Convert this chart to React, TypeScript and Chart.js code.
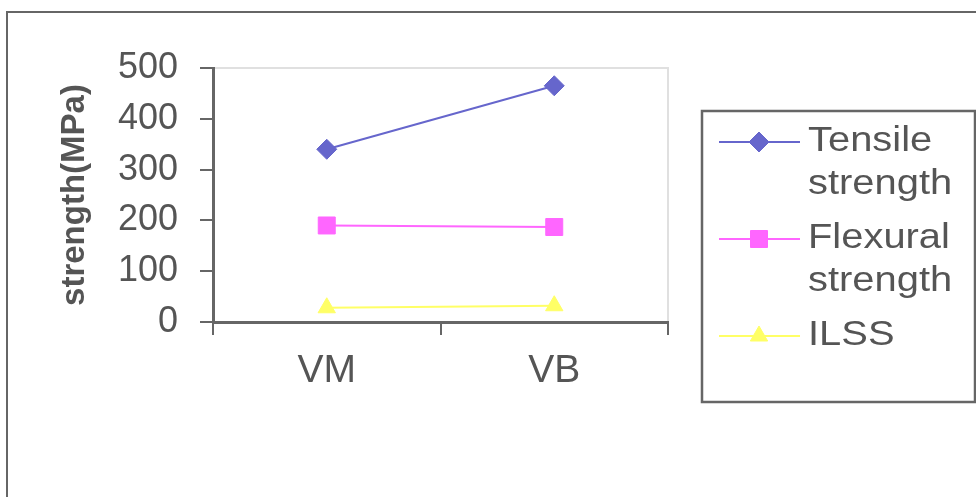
import React, { useEffect, useRef } from "react";
import { Chart, registerables } from "chart.js";

Chart.register(...registerables);

// Samples, series and readings (MPa)
const CATEGORIES = ["VM", "VB"];
const SERIES_NAMES = ["Tensile strength", "Flexural strength", "ILSS"];
const TENSILE = [340, 465];
const FLEXURAL = [190, 187];
const ILSS = [28, 32];
const Y_TICKS = [0, 100, 200, 300, 400, 500];
const Y_TITLE = "strength(MPa)";

const FONT = "'Liberation Sans', Arial, sans-serif";
const AXIS_GRAY = "#666666";
const TEXT_GRAY = "#555555";

function drawMarker(ctx: CanvasRenderingContext2D, style: string, x: number, y: number, r: number) {
  ctx.beginPath();
  if (style === "rectRot") {
    ctx.moveTo(x, y - r);
    ctx.lineTo(x + r, y);
    ctx.lineTo(x, y + r);
    ctx.lineTo(x - r, y);
  } else if (style === "rect") {
    const s = r * Math.SQRT1_2;
    ctx.rect(x - s, y - s, 2 * s, 2 * s);
  } else {
    const h = r * 1.5;
    const half = (r * Math.sqrt(3)) / 2;
    ctx.moveTo(x, y - r);
    ctx.lineTo(x + half, y - r + h);
    ctx.lineTo(x - half, y - r + h);
  }
  ctx.closePath();
  ctx.fill();
  ctx.stroke();
}

// Outer frame, plot-area outline and the wrapped legend on the right
const decorPlugin = {
  id: "decor",
  beforeDraw(chart: any) {
    const { ctx, chartArea } = chart;
    ctx.save();
    ctx.fillStyle = "#ffffff";
    ctx.fillRect(0, 0, chart.width, chart.height);
    // outer frame (left and top edges visible)
    ctx.fillStyle = AXIS_GRAY;
    ctx.fillRect(6, 11, chart.width - 6, 2);
    ctx.fillRect(6, 11, 2, chart.height - 11);
    // light outline of plot area (top and right)
    ctx.strokeStyle = "#e0e0e0";
    ctx.lineWidth = 2;
    ctx.beginPath();
    ctx.moveTo(chartArea.left, chartArea.top);
    ctx.lineTo(chartArea.right, chartArea.top);
    ctx.lineTo(chartArea.right, chartArea.bottom);
    ctx.stroke();
    ctx.restore();
  },
  afterDraw(chart: any) {
    const { ctx } = chart;
    const boxL = 702, boxT = 111, boxR = 975, boxB = 402;
    ctx.save();
    ctx.strokeStyle = AXIS_GRAY;
    ctx.lineWidth = 2.5;
    ctx.strokeRect(boxL, boxT, boxR - boxL, boxB - boxT);

    ctx.font = `35px ${FONT}`;
    ctx.textAlign = "left";
    ctx.textBaseline = "alphabetic";
    const textX = 808;
    const stretch = 1.14;
    const maxW = (boxR - textX - 4) / stretch;
    const lineH = 43;
    let y = 142;
    chart.data.datasets.forEach((ds: any) => {
      // legend sample line
      ctx.strokeStyle = ds.borderColor;
      ctx.lineWidth = 2;
      ctx.beginPath();
      ctx.moveTo(719, y);
      ctx.lineTo(800, y);
      ctx.stroke();
      // legend marker, same style as the data points
      ctx.fillStyle = ds.backgroundColor;
      ctx.strokeStyle = ds.borderColor;
      ctx.lineWidth = 1;
      drawMarker(ctx, ds.pointStyle, 759, y, ds.pointRadius);
      // wrapped label
      const words = String(ds.label).split(" ");
      const lines: string[] = [];
      let cur = "";
      words.forEach((w) => {
        const test = cur ? cur + " " + w : w;
        if (cur && ctx.measureText(test).width > maxW) {
          lines.push(cur);
          cur = w;
        } else cur = test;
      });
      if (cur) lines.push(cur);
      ctx.fillStyle = TEXT_GRAY;
      lines.forEach((ln, k) => {
        ctx.save();
        ctx.translate(textX, y + 8.5 + k * lineH);
        ctx.scale(stretch, 1);
        ctx.fillText(ln, 0, 0);
        ctx.restore();
      });
      y += lines.length * lineH + 11;
    });
    ctx.restore();
  },
};

export default function App() {
  const canvasRef = useRef<HTMLCanvasElement | null>(null);

  useEffect(() => {
    const canvas = canvasRef.current;
    if (!canvas) return;
    const mk = (label: string, data: number[], color: string, pointStyle: string, radius: number) => ({
      label,
      data,
      borderColor: color,
      backgroundColor: color,
      borderWidth: 2,
      pointStyle,
      pointRadius: radius,
      pointHoverRadius: radius,
      pointBorderWidth: 1,
      tension: 0,
    });
    const chart = new Chart(canvas, {
      type: "line",
      data: {
        labels: CATEGORIES,
        datasets: [
          mk(SERIES_NAMES[0], TENSILE, "#6666CC", "rectRot", 10),
          mk(SERIES_NAMES[1], FLEXURAL, "#FF66FF", "rect", 12),
          mk(SERIES_NAMES[2], ILSS, "#FFFF66", "triangle", 10),
        ],
      },
      options: {
        animation: false,
        responsive: false,
        devicePixelRatio: 1,
        layout: { padding: { top: 68, right: 308, bottom: 0, left: 0 } },
        plugins: {
          legend: { display: false },
          tooltip: { enabled: false },
          title: { display: false },
        },
        scales: {
          x: {
            type: "category",
            offset: true,
            afterFit: (s: any) => {
              s.height = 175;
            },
            border: { display: true, color: AXIS_GRAY, width: 3 },
            grid: {
              offset: true,
              drawOnChartArea: false,
              drawTicks: true,
              tickLength: 13,
              color: AXIS_GRAY,
              lineWidth: 2,
            },
            ticks: {
              color: TEXT_GRAY,
              font: { family: FONT, size: 39 },
              padding: 13,
              maxRotation: 0,
            },
          },
          y: {
            min: Y_TICKS[0],
            max: Y_TICKS[Y_TICKS.length - 1],
            afterFit: (s: any) => {
              s.width = 213;
            },
            afterBuildTicks: (s: any) => {
              s.ticks = Y_TICKS.map((v) => ({ value: v }));
            },
            border: { display: true, color: AXIS_GRAY, width: 3 },
            grid: {
              drawOnChartArea: false,
              drawTicks: true,
              tickLength: 13,
              color: AXIS_GRAY,
              lineWidth: 2,
            },
            ticks: {
              color: TEXT_GRAY,
              font: { family: FONT, size: 36 },
              padding: 22,
            },
            title: {
              display: true,
              text: Y_TITLE,
              color: TEXT_GRAY,
              font: { family: FONT, size: 33, weight: "bold" },
              padding: { top: 55, bottom: 0 },
            },
          },
        },
      },
      plugins: [decorPlugin],
    } as any);
    return () => chart.destroy();
  }, []);

  return (
    <div style={{ position: "absolute", left: 0, top: 0, width: 976, height: 497 }}>
      <canvas ref={canvasRef} width={976} height={497} style={{ display: "block" }} />
    </div>
  );
}
